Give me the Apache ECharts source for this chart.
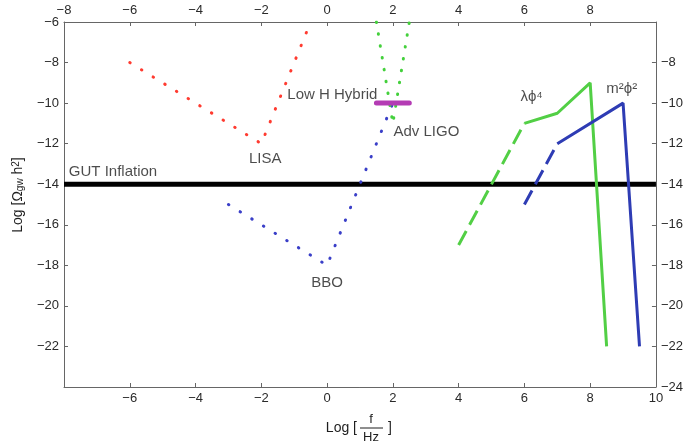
<!DOCTYPE html>
<html><head><meta charset="utf-8">
<script src="https://cdn.jsdelivr.net/npm/echarts@6/dist/echarts.min.js"></script>
<style>html,body{margin:0;padding:0;background:#fff}#c{width:686px;height:445px}</style>
</head><body><div id="c"></div>
<script>
// ---- data ----
var lisa = [[-6, -8], [-2, -12], [-0.5, -6]];
var bbo = [[-3, -15], [0, -18], [2, -10]];
var advLigo = [[1.5, -6], [2, -11], [2.5, -6]];
var lowHHybrid = [[1.5, -10], [2.5, -10]];
var gutInflation = [[-8, -14], [10, -14]];
var lambdaPhi4Dashed = [[4, -17], [6, -11]];
var lambdaPhi4Solid = [[6, -11], [7, -10.5], [8, -9], [8.5, -22]];
var m2Phi2Dashed = [[6, -15], [7, -12]];
var m2Phi2Solid = [[7, -12], [9, -10], [9.5, -22]];
var annotations = [
  {name: 'LISA', value: [-1.88, -12.75]},
  {name: 'BBO', value: [0.0, -18.86]},
  {name: 'Low H Hybrid', value: [0.16, -9.6]},
  {name: 'Adv LIGO', value: [3.02, -11.42]},
  {name: 'GUT Inflation', value: [-6.51, -13.39]},
  {name: 'λ\u03d5⁴', value: [6.22, -9.69]},
  {name: 'm²\u03d5²', value: [8.96, -9.3]}
];
var xTicks = [-8, 10, 2];
var yTicks = [-24, -6, 2];

var FONT = 'Liberation Sans, Arial, sans-serif';
var TXT = '#1e1e1e';
var axisCommon = {
  axisLine: {show: true, onZero: false, lineStyle: {color: '#666', width: 1}},
  axisTick: {show: true, inside: true, length: 4, lineStyle: {color: '#666'}},
  splitLine: {show: false},
  axisLabel: {color: '#2a2a2a', fontFamily: FONT, fontSize: 13, margin: 5}
};
function ax(extra, hideVal) {
  var o = JSON.parse(JSON.stringify(axisCommon));
  for (var k in extra) o[k] = extra[k];
  o.axisLabel.formatter = function (v) { return v === hideVal ? '' : String(v).replace('-', '\u2212'); };
  return o;
}
var chart = echarts.init(document.getElementById('c'), null, {renderer: 'canvas'});
var dotStyle = function (color) {
  return {color: color, width: 3, type: [0.5, 13.2], cap: 'round'};
};
var option = {
  animation: false,
  grid: {left: 64, right: 30, top: 22, bottom: 58},
  xAxis: [
    ax({type: 'value', position: 'bottom', min: xTicks[0], max: xTicks[1], interval: xTicks[2]}, -8),
    ax({type: 'value', position: 'top', min: xTicks[0], max: xTicks[1], interval: xTicks[2]}, 10)
  ],
  yAxis: [
    ax({type: 'value', position: 'left', min: yTicks[0], max: yTicks[1], interval: yTicks[2]}, -24),
    ax({type: 'value', position: 'right', min: yTicks[0], max: yTicks[1], interval: yTicks[2]}, -6)
  ],
  series: [
    {type: 'line', data: gutInflation, symbol: 'none', lineStyle: {color: '#000', width: 5}},
    {type: 'line', data: lisa, symbol: 'none', lineStyle: dotStyle('#ff3b30')},
    {type: 'line', data: bbo, symbol: 'none', lineStyle: dotStyle('#3a3fc8')},
    {type: 'line', data: advLigo, symbol: 'none', lineStyle: {color: '#44d03c', width: 3, type: [0.5, 11.5], cap: 'round'}},
    {type: 'line', data: lambdaPhi4Dashed, symbol: 'none', lineStyle: {color: '#52cf45', width: 3, type: [16, 7]}},
    {type: 'line', data: lambdaPhi4Solid, symbol: 'none', lineStyle: {color: '#52cf45', width: 3}},
    {type: 'line', data: m2Phi2Dashed, symbol: 'none', lineStyle: {color: '#2e3cb4', width: 3, type: [16, 7]}},
    {type: 'line', data: m2Phi2Solid, symbol: 'none', lineStyle: {color: '#2e3cb4', width: 3}},
    {type: 'line', data: lowHHybrid, symbol: 'none', lineStyle: {color: '#b43cb4', width: 5, cap: 'round'}},
    {type: 'scatter', data: annotations, symbolSize: 0, silent: true,
      label: {show: true, position: 'inside', formatter: function (p) { return p.name; },
        color: TXT, fontFamily: FONT, fontSize: 15}}
  ],
  graphic: [
    {type: 'text', x: 18, y: 195, rotation: Math.PI / 2,
      style: {text: 'Log [Ω{sub|gw} h{sup|2}]', font: '14px ' + FONT, fill: TXT, align: 'center', verticalAlign: 'middle',
        rich: {sub: {fontSize: 10, verticalAlign: 'bottom', fill: TXT}, sup: {fontSize: 10, verticalAlign: 'top', fill: TXT}}}},
    {type: 'group', children: [
      {type: 'text', style: {text: 'Log [', x: 357, y: 428, align: 'right', verticalAlign: 'middle', font: '14px ' + FONT, fill: TXT}},
      {type: 'text', style: {text: 'f', x: 371, y: 419, align: 'center', verticalAlign: 'middle', font: '13px ' + FONT, fill: TXT}},
      {type: 'line', shape: {x1: 360, y1: 428, x2: 383, y2: 428}, style: {stroke: TXT, lineWidth: 1}},
      {type: 'text', style: {text: 'Hz', x: 371, y: 437, align: 'center', verticalAlign: 'middle', font: '13px ' + FONT, fill: TXT}},
      {type: 'text', style: {text: ']', x: 390, y: 428, align: 'center', verticalAlign: 'middle', font: '14px ' + FONT, fill: TXT}}
    ]}
  ]
};
chart.setOption(option);
</script></body></html>
